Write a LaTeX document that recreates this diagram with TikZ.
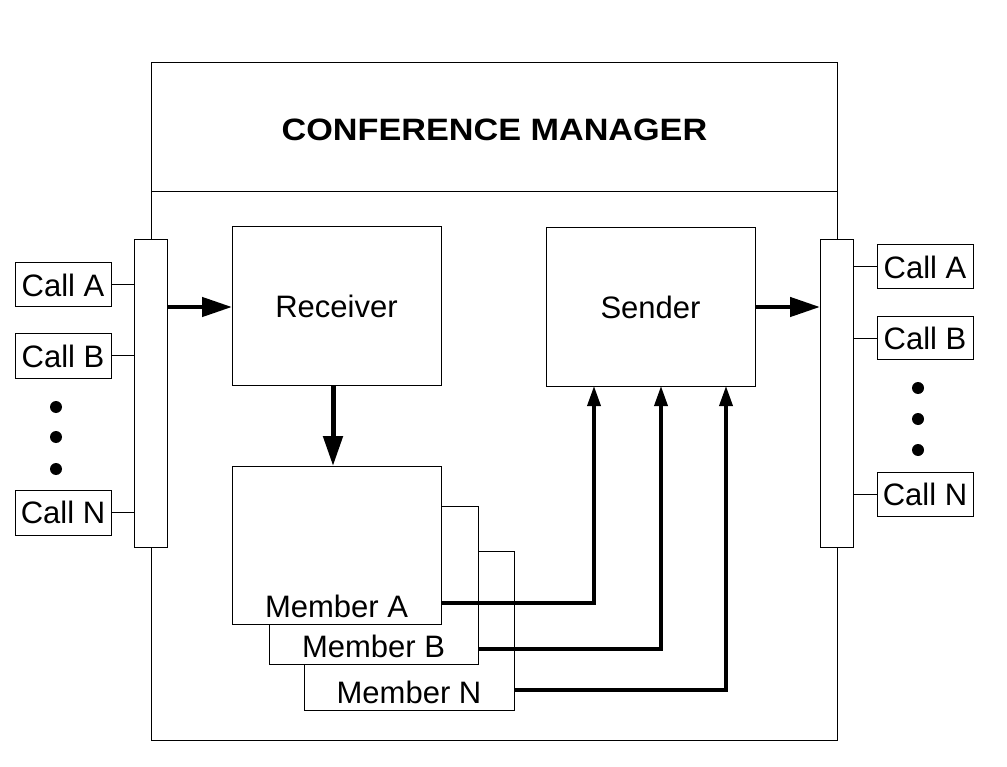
\documentclass[tikz,border=0pt]{standalone}
\usepackage{fontspec}
\setmainfont{Liberation Sans}
\usetikzlibrary{arrows.meta}
\tikzset{
  box/.style={draw, line width=1pt, fill=white, inner sep=0pt, outer sep=0pt, anchor=north west},
  lbl/.style={font=\fontsize{31}{31}\selectfont},
  bigarrow/.style={line width=4.5pt, -{Triangle[length=30pt,width=19pt]}},
  uparrow/.style={line width=3.5pt, -{Triangle[length=20pt,width=13pt]}},
  thin line/.style={line width=1pt},
  dot/.style={circle, fill=black, inner sep=0pt, minimum size=12pt},
}
\begin{document}
\begin{tikzpicture}[x=1pt, y=-1pt]
\useasboundingbox (0,0) rectangle (1007,767);
% outer frame
\node[box, fill=none, minimum width=686pt, minimum height=677pt] (frame) at (151,63) {};
\coordinate (divl) at (151,192);
\coordinate (divr) at (837,192);
\draw[thin line] (divl) -- (divr);
\node[font=\fontsize{30}{30}\selectfont\bfseries] (title) at (494.5,129.5) {\scalebox{1.14}[1.03]{CONFERENCE MANAGER}};
% bars
\node[box, minimum width=33pt, minimum height=307pt] (lbar) at (134,240) {};
\node[box, minimum width=33pt, minimum height=307pt] (rbar) at (820,240) {};
% left calls
\node[box, minimum width=96pt, minimum height=44pt, lbl] (lca) at (15,263) {Call A};
\node[box, minimum width=96pt, minimum height=44pt, lbl] (lcb) at (15,334) {Call B};
\node[box, minimum width=96pt, minimum height=45pt, lbl] (lcn) at (15,490) {Call N};
\draw[thin line] (lca.east) -- (lca.east -| lbar.west);
\draw[thin line] (lcb.east) -- (lcb.east -| lbar.west);
\draw[thin line] (lcn.east) -- (lcn.east -| lbar.west);
\node[dot] (ld1) at (56,407) {};
\node[dot] (ld2) at (56,437) {};
\node[dot] (ld3) at (56,469) {};
% right calls
\node[box, minimum width=96pt, minimum height=44pt, lbl] (rca) at (877,245) {Call A};
\node[box, minimum width=96pt, minimum height=43pt, lbl] (rcb) at (877,317) {Call B};
\node[box, minimum width=96pt, minimum height=44pt, lbl] (rcn) at (877,472) {Call N};
\draw[thin line] (rca.west) -- (rca.west -| rbar.east);
\draw[thin line] (rcb.west) -- (rcb.west -| rbar.east);
\draw[thin line] (rcn.west) -- (rcn.west -| rbar.east);
\node[dot] (rd1) at (918,388) {};
\node[dot] (rd2) at (918,419) {};
\node[dot] (rd3) at (918,450) {};
% receiver and sender
\node[box, minimum width=209pt, minimum height=158pt, lbl] (recv) at (232,227) {Receiver};
\node[box, minimum width=209pt, minimum height=158pt, lbl] (send) at (546,228) {Sender};
% members
\node[box, minimum width=210pt, minimum height=159pt,
  label={[lbl, anchor=base, yshift=7pt]south:Member N}] (memn) at (304,551) {};
\node[box, minimum width=209pt, minimum height=158pt,
  label={[lbl, anchor=base, yshift=7pt]south:Member B}] (memb) at (269,506) {};
\node[box, minimum width=209pt, minimum height=158pt,
  label={[lbl, anchor=base, yshift=7pt]south:Member A}] (mema) at (232,466) {};
% arrows
\coordinate (inrow) at (0,307);
\coordinate (downx) at (333,0);
\draw[bigarrow] (lbar.east |- inrow) -- (recv.west |- inrow);
\draw[bigarrow] (send.east |- inrow) -- (rbar.west |- inrow);
\draw[bigarrow, line width=5pt] (recv.south -| downx) -- (mema.north -| downx);
\coordinate (ca) at (594,603);
\coordinate (cb) at (661,649);
\coordinate (cn) at (726,690);
\draw[uparrow] (mema.east |- ca) -- (ca) -- (ca |- send.south);
\draw[uparrow] (memb.east |- cb) -- (cb) -- (cb |- send.south);
\draw[uparrow] (memn.east |- cn) -- (cn) -- (cn |- send.south);
\end{tikzpicture}
\end{document}
